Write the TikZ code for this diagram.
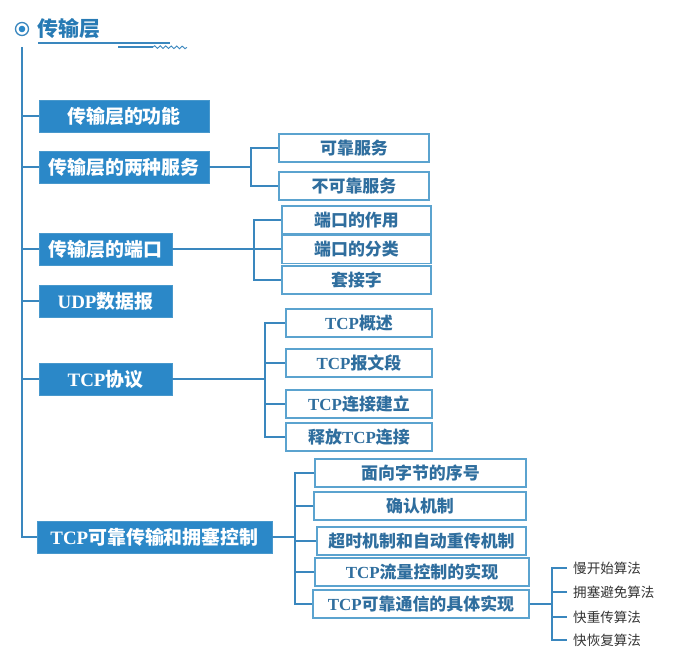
\documentclass[tikz,border=0pt]{standalone}
\usepackage{fontspec}
\setmainfont{Liberation Serif}
\newfontfamily\cjk{Noto Sans CJK SC}
\usetikzlibrary{decorations.pathmorphing}
\newcommand\lat[1]{{\rmfamily #1}}
\definecolor{fillblue}{HTML}{2B88C8}
\definecolor{lineblue}{HTML}{3A87BE}
\definecolor{edgeblue}{HTML}{5BA3CF}
\definecolor{textblue}{HTML}{2F6E9E}
\definecolor{leafgray}{HTML}{333333}
\tikzset{
  lvlone/.style={rectangle, fill=fillblue, draw=edgeblue!60!fillblue, line width=0.8bp, inner sep=0pt,
     text=white, font=\cjk\bfseries\fontsize{19}{22}\selectfont, minimum height=32bp},
  lvltwo/.style={rectangle, draw=edgeblue, line width=1.4bp, fill=white, inner sep=0pt,
     text=textblue, font=\cjk\bfseries\fontsize{17}{20}\selectfont, minimum height=27bp},
  leaf/.style={anchor=west, inner xsep=6bp, inner ysep=1bp, text=leafgray,
     font=\cjk\fontsize{13.6}{16}\selectfont},
  conn/.style={draw=lineblue, line width=1.5bp},
}
\begin{document}
\begin{tikzpicture}[x=1bp,y=-1bp]
\useasboundingbox (0,0) rectangle (699,670);
% title
\draw[lineblue, line width=1.3bp] (22,29) circle (6.5bp);
\fill[fillblue] (22,29) circle (3.3bp);
\node[anchor=west, inner sep=0pt, text=fillblue!90!black, font=\cjk\bfseries\fontsize{21}{24}\selectfont] (title) at (37,29) {传输层};
\coordinate (ulA) at (38,43);
\coordinate (ulB) at (170,43);
\coordinate (ulC) at (118,47);
\coordinate (ulD) at (153,47);
\coordinate (ulE) at (187,47.5);
\draw[lineblue, line width=1.3bp] (ulA) -- (ulB);
\draw[lineblue, line width=1.3bp] (ulC) -- (ulD);
\draw[lineblue, line width=0.9bp, decorate, decoration={snake, segment length=5.5bp, amplitude=1.3bp}] (ulD) -- (ulE);
\coordinate (trunk) at (22,47);

% level one
\node[lvlone, minimum width=170bp] (f1) at (124,116) {传输层的功能};
\node[lvlone, minimum width=170bp] (f2) at (124,167) {传输层的两种服务};
\node[lvlone, minimum width=133bp] (f3) at (105.5,249) {传输层的端口};
\node[lvlone, minimum width=133bp] (f4) at (105.5,301) {\lat{UDP}数据报};
\node[lvlone, minimum width=133bp] (f5) at (105.5,379) {\lat{TCP}协议};
\node[lvlone, minimum width=235bp] (f6) at (154.5,537) {\lat{TCP}可靠传输和拥塞控制};

\draw[conn] (trunk) |- (f6.west);
\foreach \n in {f1,f2,f3,f4,f5} \draw[conn] (\n.west) -- (\n.west -| trunk);

% services
\node[lvltwo, minimum width=150bp, minimum height=28bp] (s1) at (354,148) {可靠服务};
\node[lvltwo, minimum width=150bp, minimum height=28bp] (s2) at (354,186) {不可靠服务};
\coordinate (b2) at (251,167);
\draw[conn] (f2.east) -- (b2);
\draw[conn] (s1.west) -| (b2) |- (s2.west);

% ports
\node[lvltwo, minimum width=149bp, minimum height=28bp] (p1) at (356.5,220) {端口的作用};
\node[lvltwo, minimum width=149bp, minimum height=28bp] (p2) at (356.5,249.5) {端口的分类};
\node[lvltwo, minimum width=149bp, minimum height=28bp] (p3) at (356.5,280) {套接字};
\coordinate (b3) at (254,249);
\draw[conn] (f3.east) -- (b3);
\draw[conn] (p1.west) -| (b3) |- (p3.west);
\draw[conn] (p2.west |- b3) -- (b3);

% TCP
\node[lvltwo, minimum width=146bp, minimum height=28bp] (t1) at (359,323) {\lat{TCP}概述};
\node[lvltwo, minimum width=146bp, minimum height=28bp] (t2) at (359,363) {\lat{TCP}报文段};
\node[lvltwo, minimum width=146bp, minimum height=28bp] (t3) at (359,404) {\lat{TCP}连接建立};
\node[lvltwo, minimum width=146bp, minimum height=28bp] (t4) at (359,437) {释放\lat{TCP}连接};
\coordinate (b5) at (265,379);
\draw[conn] (f5.east) -- (b5);
\draw[conn] (t1.west) -| (b5) |- (t4.west);
\foreach \n in {t2,t3} \draw[conn] (\n.west) -- (\n.west -| b5);

% reliable transfer
\node[lvltwo, minimum width=211bp, minimum height=28bp] (r1) at (420.5,473) {面向字节的序号};
\node[lvltwo, minimum width=212bp, minimum height=28bp] (r2) at (420,506) {确认机制};
\node[lvltwo, minimum width=209bp, minimum height=28bp] (r3) at (421.5,541) {超时机制和自动重传机制};
\node[lvltwo, minimum width=214bp, minimum height=28bp] (r4) at (422,572) {\lat{TCP}流量控制的实现};
\node[lvltwo, minimum width=216bp, minimum height=28bp] (r5) at (421,604) {\lat{TCP}可靠通信的具体实现};
\coordinate (b6) at (295,537);
\draw[conn] (f6.east) -- (b6);
\draw[conn] (r1.west) -| (b6) |- (r5.west);
\foreach \n in {r2,r3,r4} \draw[conn] (\n.west) -- (\n.west -| b6);

% leaves
\node[leaf] (l1) at (567,568) {慢开始算法};
\node[leaf] (l2) at (567,592) {拥塞避免算法};
\node[leaf] (l3) at (567,617) {快重传算法};
\node[leaf] (l4) at (567,640) {快恢复算法};
\coordinate (b7) at (552,604);
\draw[conn] (r5.east) -- (b7);
\draw[conn] (l1.west) -| (b7) |- (l4.west);
\foreach \n in {l2,l3} \draw[conn] (\n.west) -- (\n.west -| b7);
\end{tikzpicture}
\end{document}
